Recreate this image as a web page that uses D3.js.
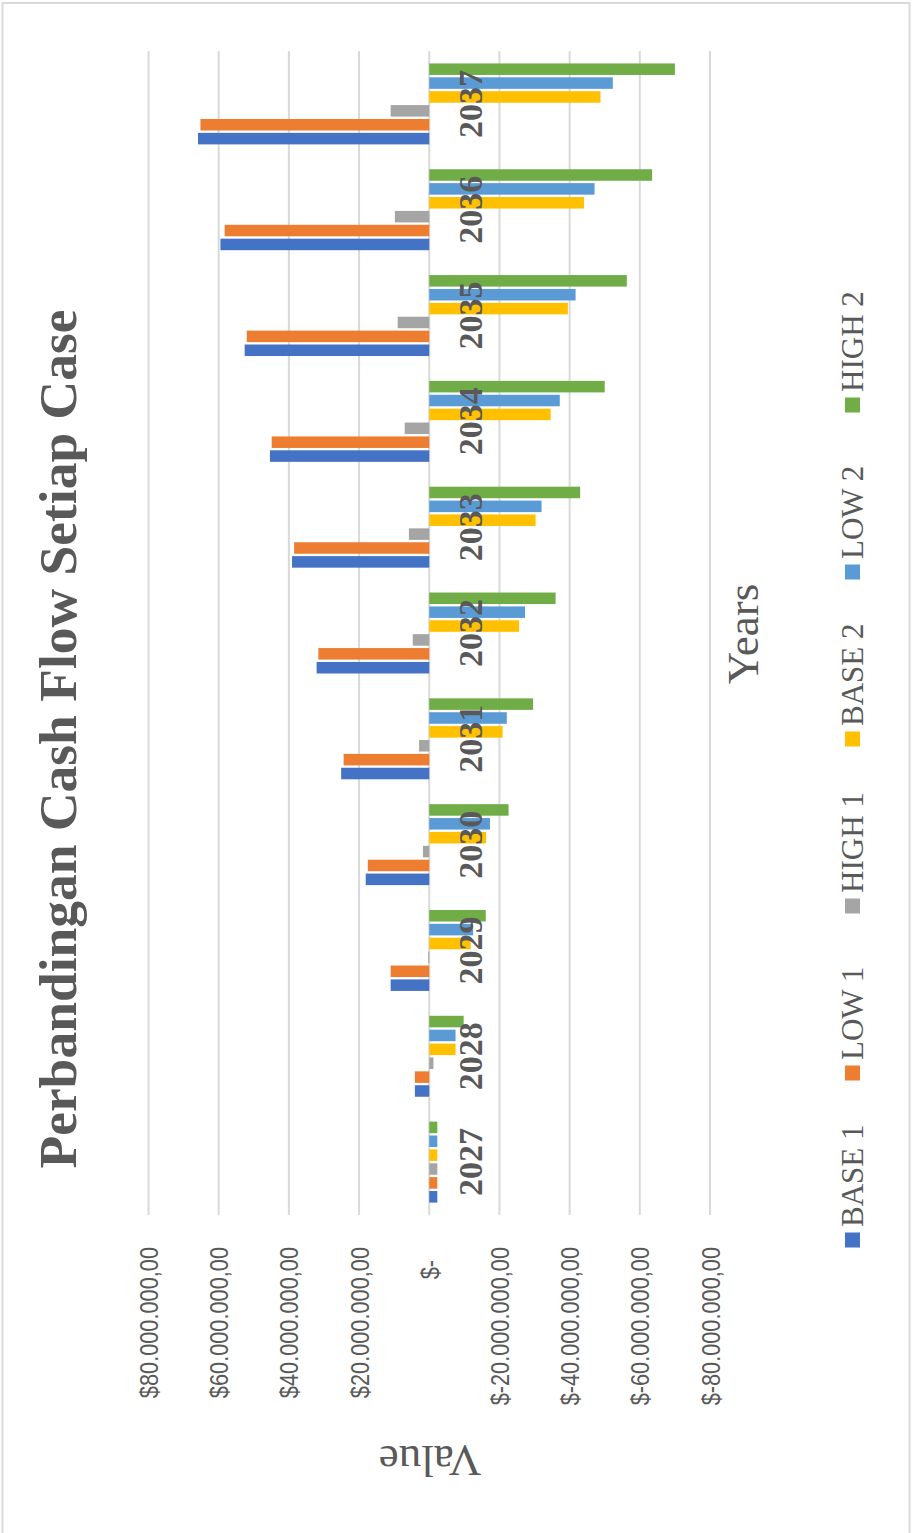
<!DOCTYPE html>
<html>
<head>
<meta charset="utf-8">
<script src="https://cdn.jsdelivr.net/npm/d3@7"></script>
<style>
  html, body { margin: 0; padding: 0; background: #fff; }
  svg { display: block; }
</style>
</head>
<body>
<svg id="chart"></svg>
<script>
// data (values in $ millions)
const years = ["2027", "2028", "2029", "2030", "2031", "2032", "2033", "2034", "2035", "2036", "2037"];
const series = ["BASE 1", "LOW 1", "HIGH 1", "BASE 2", "LOW 2", "HIGH 2"];
const colors = ["#4472C4", "#ED7D31", "#A5A5A5", "#FFC000", "#5B9BD5", "#70AD47"];

const base1 = [-2.3, 4.1, 11.0, 18.1, 25.1, 32.1, 39.1, 45.4, 52.6, 59.5, 65.9];
const low1  = [-2.3, 4.1, 11.0, 17.5, 24.4, 31.6, 38.5, 44.9, 52.0, 58.3, 65.2];
const high1 = [-2.3, -1.2, 0.3, 1.8, 2.9, 4.7, 5.8, 7.0, 9.0, 9.8, 11.0];
const base2 = [-2.3, -7.5, -11.8, -16.2, -20.9, -25.6, -30.3, -34.6, -39.5, -44.1, -48.8];
const low2  = [-2.3, -7.5, -12.5, -17.3, -22.1, -27.3, -32.0, -37.2, -41.7, -47.1, -52.3];
const high2 = [-2.3, -9.8, -16.1, -22.6, -29.6, -36.0, -43.0, -50.0, -56.3, -63.5, -70.0];
const seriesValues = [base1, low1, high1, base2, low2, high2];

const tickValues = [80, 60, 40, 20, 0, -20, -40, -60, -80];
const tickLabels = ["$80.000.000,00", "$60.000.000,00", "$40.000.000,00", "$20.000.000,00", "$-",
                    "$-20.000.000,00", "$-40.000.000,00", "$-60.000.000,00", "$-80.000.000,00"];

const W = 913, H = 1533;
const grey = "#595959";

const svg = d3.select("#chart").attr("width", W).attr("height", H);

// chart frame
svg.append("rect")
  .attr("x", 2.5).attr("y", 3).attr("width", 907).attr("height", H + 10)
  .attr("fill", "#fff").attr("stroke", "#d9d9d9").attr("stroke-width", 2);

// the chart is shown turned a quarter turn: values run left-right, years bottom-top
const x = d3.scaleLinear().domain([80, -80]).range([148.5, 710]);
const y = d3.scaleBand().domain(years).range([1215, 51])
  .paddingInner(0.235).paddingOuter(0.1175);
const ySeries = d3.scaleBand().domain(series).range([y.bandwidth(), 0]).paddingInner(0.17);

// gridlines
svg.append("g")
  .selectAll("line")
  .data(tickValues)
  .join("line")
  .attr("x1", d => x(d)).attr("x2", d => x(d))
  .attr("y1", 51).attr("y2", 1215)
  .attr("stroke", "#d9d9d9")
  .attr("stroke-width", 2);

// bars
const rows = [];
years.forEach((yr, i) => {
  series.forEach((s, j) => rows.push({ year: yr, series: s, value: seriesValues[j][i], color: colors[j] }));
});

svg.append("g")
  .selectAll("rect")
  .data(rows)
  .join("rect")
  .attr("x", d => Math.min(x(d.value), x(0)))
  .attr("width", d => Math.abs(x(d.value) - x(0)))
  .attr("y", d => y(d.year) + ySeries(d.series))
  .attr("height", ySeries.bandwidth())
  .attr("fill", d => d.color);

// value axis labels
const xAxis = d3.axisBottom(x)
  .tickValues(tickValues)
  .tickFormat((d, i) => tickLabels[i])
  .tickSize(0);

const gx = svg.append("g")
  .attr("transform", "translate(0,1247)")
  .call(xAxis);
gx.select(".domain").remove();
gx.selectAll("text")
  .attr("x", 0).attr("y", 0).attr("dy", null)
  .attr("text-anchor", "end")
  .attr("transform", d => d === 0 ? "translate(9,13) rotate(-90) scale(0.87,1)" : "translate(9,0) rotate(-90) scale(0.87,1)")
  .style("font-family", "'Liberation Sans', Arial, sans-serif")
  .style("font-size", "25px")
  .attr("fill", grey);

// year labels
svg.append("g")
  .selectAll("text")
  .data(years)
  .join("text")
  .attr("transform", d => `translate(482,${y(d) + y.bandwidth() / 2}) rotate(-90)`)
  .attr("text-anchor", "middle")
  .style("font-family", "'Liberation Serif', 'Times New Roman', serif")
  .style("font-weight", "bold")
  .style("font-size", "34px")
  .attr("fill", grey)
  .text(d => d);

// title
svg.append("text")
  .attr("transform", "translate(76,739) rotate(-90)")
  .attr("text-anchor", "middle")
  .style("font-family", "'Liberation Serif', 'Times New Roman', serif")
  .style("font-weight", "bold")
  .style("font-size", "53.5px")
  .attr("fill", grey)
  .text("Perbandingan Cash Flow Setiap Case");

// axis titles
svg.append("text")
  .attr("transform", "translate(758,634) rotate(-90)")
  .attr("text-anchor", "middle")
  .style("font-family", "'Liberation Serif', 'Times New Roman', serif")
  .style("font-size", "45px")
  .attr("fill", grey)
  .text("Years");

svg.append("text")
  .attr("transform", "translate(430,1446) rotate(180)")
  .attr("text-anchor", "middle")
  .style("font-family", "'Liberation Serif', 'Times New Roman', serif")
  .style("font-size", "45px")
  .attr("fill", grey)
  .text("Value");

// legend
const legend = svg.append("g")
  .selectAll("g")
  .data(series)
  .join("g")
  .attr("transform", (d, i) => `translate(852.5,${1240 - i * 167})`);

legend.append("rect")
  .attr("x", -7.5).attr("y", -7.5)
  .attr("width", 15).attr("height", 15)
  .attr("fill", (d, i) => colors[i]);

legend.append("text")
  .attr("transform", "translate(10.5,-13) rotate(-90) scale(0.97,1)")
  .style("font-family", "'Liberation Serif', 'Times New Roman', serif")
  .style("font-size", "32px")
  .attr("fill", grey)
  .text(d => d);
</script>
</body>
</html>
